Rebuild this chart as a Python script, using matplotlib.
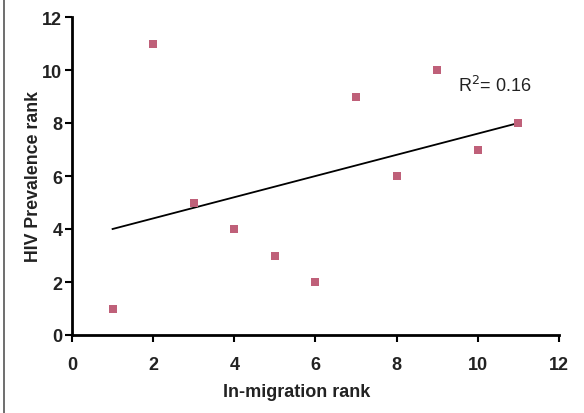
import matplotlib
matplotlib.use("Agg")
import matplotlib.pyplot as plt
import numpy as np
from matplotlib.lines import Line2D

plt.rcParams['font.family'] = ['Liberation Sans', 'DejaVu Sans']

migration_rank = [1, 2, 3, 4, 5, 6, 7, 8, 9, 10, 11]
hiv_rank = [1, 11, 5, 4, 3, 2, 9, 6, 10, 7, 8]
x_ticks = [0, 2, 4, 6, 8, 10, 12]
y_ticks = [0, 2, 4, 6, 8, 10, 12]

fig = plt.figure(figsize=(5.84, 4.14), dpi=100)
ax = fig.add_axes([72/584, (414-336)/414, (559-72)/584, (336-18)/414])

x = np.array(migration_rank)
y = np.array(hiv_rank)
slope, intercept = np.polyfit(x, y, 1)
r2 = np.corrcoef(x, y)[0, 1] ** 2
xl = np.array([x.min(), x.max()])
ax.plot(xl, slope * xl + intercept, color='black', lw=1.3, zorder=2)
ax.scatter(x, y, marker='s', s=28, color='#BF6079', linewidths=0, zorder=3)

ax.text(9.5, 9.2, f"R$^2$= {r2:.2f}", fontsize=13, color='#222222')

ax.set_xlim(0, 12)
ax.set_ylim(0, 12)
ax.set_xticks(x_ticks)
ax.set_yticks(y_ticks)
for s in ['top', 'right']:
    ax.spines[s].set_visible(False)
for s in ['left', 'bottom']:
    ax.spines[s].set_linewidth(2)
ax.tick_params(direction='out', width=1.5, length=5, labelsize=13, colors='black', labelcolor='#222222')
ax.tick_params(axis='x', pad=10)
ax.tick_params(axis='y', pad=2)
for lab in ax.get_xticklabels() + ax.get_yticklabels():
    lab.set_fontweight('bold')
ax.set_xlabel('In-migration rank', fontsize=13, fontweight='bold', color='#222222')
ax.set_ylabel('HIV Prevalence rank', fontsize=12.8, fontweight='bold', color='#222222')
ax.xaxis.set_label_coords(0.462, -0.152)
ax.yaxis.set_label_coords(-0.061, 0.5)

fig.add_artist(Line2D([3.5/584, 3.5/584], [0, 1], transform=fig.transFigure, color='#555555', lw=1.2))

fig.savefig('out.png', dpi=100)
